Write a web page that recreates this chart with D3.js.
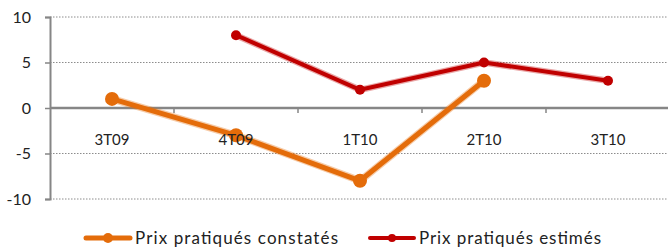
<!DOCTYPE html>
<html><head><meta charset="utf-8">
<script src="https://cdn.jsdelivr.net/npm/d3@7"></script>
<style>body{margin:0;background:#fff}svg{display:block}text{font-family:"Lato","Open Sans",sans-serif;fill:#222}</style>
</head><body><svg id="c" width="668" height="249"></svg>
<script>
const categories = ["3T09","4T09","1T10","2T10","3T10"];
const constates = [1, -3, -8, 3, null];
const estimes = [null, 8, 2, 5, 3];
const yTicks = [-10,-5,0,5,10];
const seriesNames = ["Prix pratiqués constatés","Prix pratiqués estimés"];

const svg = d3.select("#c");
const x = d3.scaleBand().domain(categories).range([50, 670]);
const y = d3.scaleLinear().domain([-10,10]).range([199, 17]);

// gridlines
svg.append("g").selectAll("line").data(yTicks.filter(d=>d!==0)).join("line")
  .attr("x1",50).attr("x2",668).attr("y1",d=>y(d)).attr("y2",d=>y(d))
  .attr("stroke","#8c8c8c").attr("stroke-width",1).attr("stroke-dasharray","1.5,1.5");

// y axis
const yAxis = svg.append("g").attr("transform","translate(50,0)")
  .call(d3.axisLeft(y).tickValues(yTicks).tickSize(5).tickPadding(14).tickFormat(d=>String(d)));
yAxis.select(".domain").attr("stroke","#868686").attr("stroke-width",2);
yAxis.selectAll(".tick line").attr("stroke","#868686").attr("stroke-width",1.5);
yAxis.selectAll("text").attr("font-size",16).style("font-family","Lato, sans-serif").attr("fill","#222");

// zero axis line + ticks
svg.append("line").attr("x1",50).attr("x2",668).attr("y1",y(0)).attr("y2",y(0))
  .attr("stroke","#868686").attr("stroke-width",2.5);
svg.append("g").selectAll("line").data(categories.slice(1)).join("line")
  .attr("x1",d=>x(d)).attr("x2",d=>x(d)).attr("y1",y(0)).attr("y2",y(0)+5)
  .attr("stroke","#868686").attr("stroke-width",1.5);

const cx = (d,i)=>x(categories[i])+x.bandwidth()/2;
const line = d3.line().defined(d=>d!==null).x((d,i)=>cx(d,i)).y(d=>y(d));

function series(data, color, w, r){
  svg.append("path").datum(data).attr("d",line).attr("fill","none")
    .attr("stroke",color).attr("stroke-opacity",0.35).attr("stroke-width",w+2.5).attr("stroke-linejoin","round");
  svg.append("path").datum(data).attr("d",line).attr("fill","none")
    .attr("stroke",color).attr("stroke-width",w).attr("stroke-linejoin","round");
  svg.append("g").selectAll("circle").data(data.map((d,i)=>({d,i})).filter(o=>o.d!==null)).join("circle")
    .attr("cx",o=>cx(o.d,o.i)).attr("cy",o=>y(o.d)).attr("r",r).attr("fill",color);
}
series(estimes, "#C00000", 4, 5);
series(constates, "#E46C0A", 5, 7);

// category labels (drawn on top)
const xAxis = svg.append("g").attr("transform",`translate(0,${y(0)})`)
  .call(d3.axisBottom(x).tickSize(0).tickPadding(26));
xAxis.select(".domain").remove();
xAxis.selectAll("text").attr("font-size",15).style("font-family","Lato, sans-serif").attr("fill","#222");

// legend
const leg = [{name:seriesNames[0],color:"#E46C0A",x:86,r:5,w:5,len:203},{name:seriesNames[1],color:"#C00000",x:370,r:4,w:4,len:182}];
const lg = svg.append("g").selectAll("g").data(leg).join("g").attr("transform",d=>`translate(${d.x},238)`);
lg.append("line").attr("x1",0).attr("x2",44).attr("stroke",d=>d.color).attr("stroke-width",d=>d.w).attr("stroke-linecap","round");
lg.append("circle").attr("cx",22).attr("r",d=>d.r).attr("fill",d=>d.color);
lg.append("text").attr("x",49).attr("y",6).attr("font-size",17).style("font-family","Lato, sans-serif")
  .attr("textLength",d=>d.len).attr("lengthAdjust","spacing").text(d=>d.name);
</script></body></html>
